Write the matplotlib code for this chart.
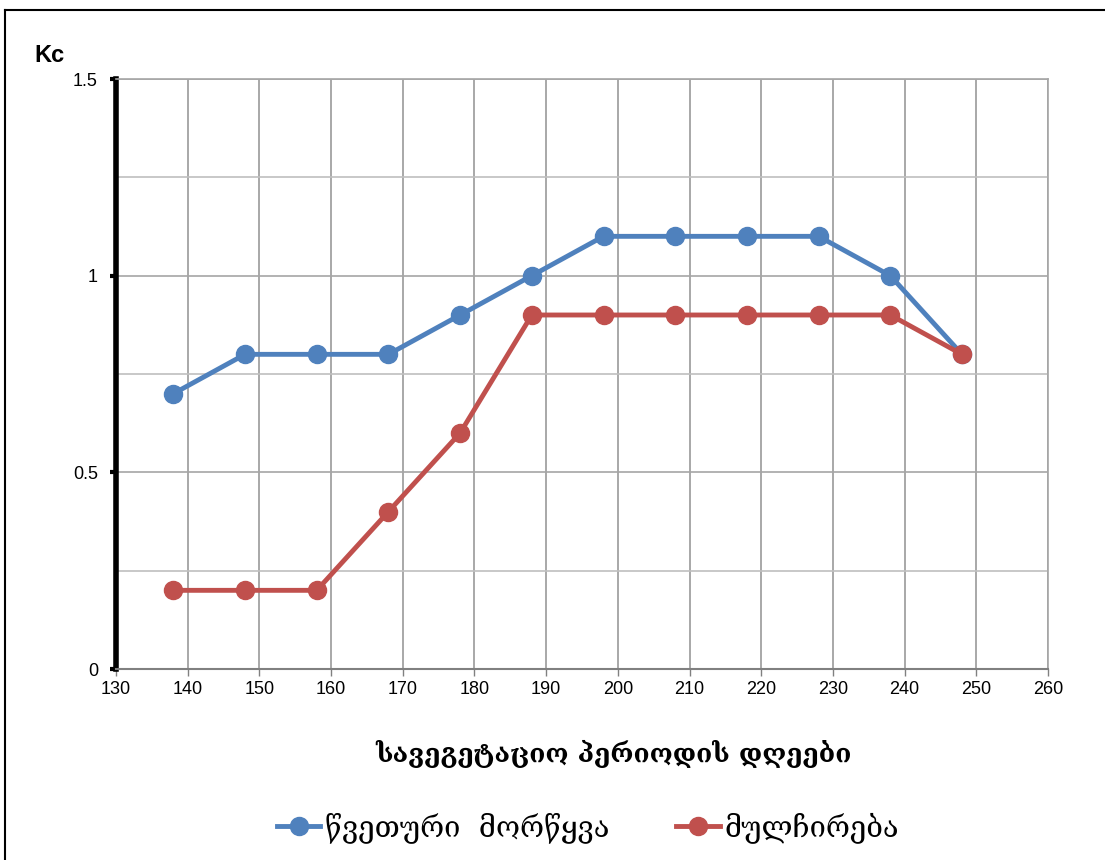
import matplotlib.pyplot as plt
from matplotlib.lines import Line2D

# days of the vegetation period and crop coefficient Kc
days = [138, 148, 158, 168, 178, 188, 198, 208, 218, 228, 238, 248]
kc_drip = [0.7, 0.8, 0.8, 0.8, 0.9, 1.0, 1.1, 1.1, 1.1, 1.1, 1.0, 0.8]
kc_mulch = [0.2, 0.2, 0.2, 0.4, 0.6, 0.9, 0.9, 0.9, 0.9, 0.9, 0.9, 0.8]
series_names = ['წვეთური  მორწყვა', 'მულჩირება']
x_ticks = list(range(130, 261, 10))
y_ticks = [0, 0.5, 1, 1.5]
y_minor = [0.25, 0.75, 1.25]

plt.rcParams['font.family'] = ['Liberation Sans', 'DejaVu Sans']
geo_font = ['DejaVu Serif', 'DejaVu Sans']

blue = '#4F81BD'
red = '#C0504D'

fig = plt.figure(figsize=(11.05, 8.6), dpi=100)
ax = fig.add_axes([116 / 1105, 191 / 860, 932 / 1105, 590 / 860])

ax.plot(days, kc_drip, color=blue, lw=3.5, marker='o', ms=13, zorder=3,
        label=series_names[0])
ax.plot(days, kc_mulch, color=red, lw=3.5, marker='o', ms=13, zorder=4,
        label=series_names[1])

ax.set_xlim(130, 260)
ax.set_ylim(0, 1.5)
ax.set_xticks(x_ticks)
ax.set_yticks(y_ticks)
ax.set_yticklabels(['0', '0.5', '1', '1.5'])
ax.set_yticks(y_minor, minor=True)
ax.tick_params(axis='y', which='minor', length=0)
ax.tick_params(axis='y', which='major', length=4, width=3, color='black',
               labelsize=13, pad=9)
ax.tick_params(axis='x', length=5, width=1, color='#808080',
               labelsize=13, pad=4)

ax.grid(True, axis='x', color='#999999', lw=1.2)
ax.grid(True, axis='y', which='major', color='#a6a6a6', lw=1.2)
ax.grid(True, axis='y', which='minor', color='#bfbfbf', lw=1.2)
ax.set_axisbelow(True)

for side in ['top', 'right']:
    ax.spines[side].set_color('#a6a6a6')
    ax.spines[side].set_linewidth(1.2)
ax.spines['bottom'].set_color('#808080')
ax.spines['bottom'].set_linewidth(1.5)
ax.spines['left'].set_color('black')
ax.spines['left'].set_linewidth(4)

fig.text(34 / 1105, 1 - 56 / 860, 'Kc', fontsize=17, fontweight='bold',
         va='center', ha='left')
fig.text(0.555, 1 - 754 / 860, 'სავეგეტაციო პერიოდის დღეები', fontsize=19,
         family=geo_font, fontweight='bold', ha='center', va='center')

handles = [Line2D([], [], color=blue, lw=3.5, marker='o', ms=13),
           Line2D([], [], color=red, lw=3.5, marker='o', ms=13)]
fig.legend(handles, series_names, loc='center', bbox_to_anchor=(0.532, 1 - 828 / 860),
           ncol=2, frameon=False, prop={'family': geo_font, 'size': 21},
           handlelength=1.5, handletextpad=0.15, columnspacing=2.3)

# outer frame lines
fig.add_artist(Line2D([5 / 1105, 1], [1 - 10 / 860, 1 - 10 / 860],
                      color='black', lw=1.5))
fig.add_artist(Line2D([5 / 1105, 5 / 1105], [0, 1 - 10 / 860],
                      color='black', lw=1.5))

fig.savefig('out.png', dpi=100)
